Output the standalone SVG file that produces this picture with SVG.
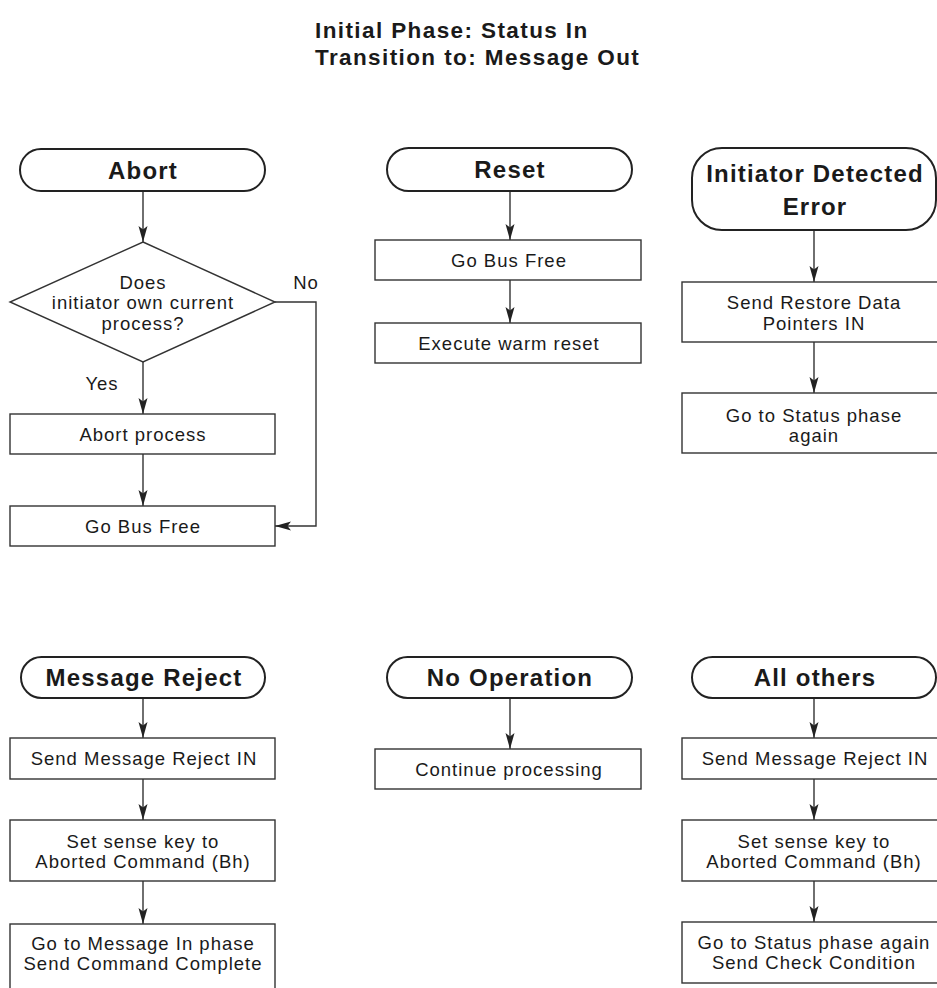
<svg xmlns="http://www.w3.org/2000/svg" width="937" height="988" viewBox="0 0 937 988">
<style>
  text { font-family: "Liberation Sans", Arial, Helvetica, sans-serif; fill: #1a1a1a; text-anchor: middle; }
  .title { font-size: 22.5px; font-weight: bold; text-anchor: start; letter-spacing: 1.4px; }
  .term { fill: #fff; stroke: #222; stroke-width: 2; }
  .tt { font-size: 24px; font-weight: bold; letter-spacing: 1.2px; }
  .box { fill: #fff; stroke: #333; stroke-width: 1.4; }
  .bt { font-size: 18.5px; letter-spacing: 1px; }
  .lbl { font-size: 18.5px; letter-spacing: 1px; }
  .conn { fill: none; stroke: #333; stroke-width: 1.4; }
</style>
<defs>
  <marker id="arr" viewBox="0 0 16 10" refX="16" refY="5" markerWidth="16" markerHeight="10" markerUnits="userSpaceOnUse" orient="auto">
    <path d="M0,0.5 L16,5 L0,9.5 L3.5,5 Z" fill="#222"/>
  </marker>
</defs>
<rect width="937" height="988" fill="#fff"/>
<g id="title">
  <text class="title" x="315" y="38">Initial Phase: Status In</text>
  <text class="title" x="315" y="65">Transition to: Message Out</text>
</g>

<g id="connectors">
  <line class="conn" x1="143" y1="191" x2="143" y2="242" marker-end="url(#arr)"/>
  <line class="conn" x1="143" y1="362" x2="143" y2="414" marker-end="url(#arr)"/>
  <line class="conn" x1="143" y1="454" x2="143" y2="506" marker-end="url(#arr)"/>
  <polyline class="conn" points="275,302 316,302 316,526 275,526" marker-end="url(#arr)"/>
  <line class="conn" x1="510" y1="191" x2="510" y2="240" marker-end="url(#arr)"/>
  <line class="conn" x1="510" y1="280" x2="510" y2="323" marker-end="url(#arr)"/>
  <line class="conn" x1="814" y1="230" x2="814" y2="282" marker-end="url(#arr)"/>
  <line class="conn" x1="814" y1="342" x2="814" y2="393" marker-end="url(#arr)"/>
  <line class="conn" x1="143" y1="698" x2="143" y2="738" marker-end="url(#arr)"/>
  <line class="conn" x1="143" y1="779" x2="143" y2="820" marker-end="url(#arr)"/>
  <line class="conn" x1="143" y1="881" x2="143" y2="924" marker-end="url(#arr)"/>
  <line class="conn" x1="510" y1="698" x2="510" y2="749" marker-end="url(#arr)"/>
  <line class="conn" x1="814" y1="698" x2="814" y2="738" marker-end="url(#arr)"/>
  <line class="conn" x1="814" y1="779" x2="814" y2="820" marker-end="url(#arr)"/>
  <line class="conn" x1="814" y1="881" x2="814" y2="922" marker-end="url(#arr)"/>
  <text class="lbl" x="306" y="289">No</text>
  <text class="lbl" x="102" y="390">Yes</text>
</g>

<g id="abort">
  <rect class="term" x="20" y="149" width="245" height="42" rx="21"/>
  <text class="tt" x="143" y="179">Abort</text>
</g>
<g id="decision">
  <polygon class="box" points="143,242 275,302 143,362 10,302"/>
  <text class="bt" x="143" y="289">Does</text>
  <text class="bt" x="143" y="309">initiator own current</text>
  <text class="bt" x="143" y="330">process?</text>
</g>
<g id="abort-process">
  <rect class="box" x="10" y="414" width="265" height="40"/>
  <text class="bt" x="143" y="441">Abort process</text>
</g>
<g id="abort-busfree">
  <rect class="box" x="10" y="506" width="265" height="40"/>
  <text class="bt" x="143" y="533">Go Bus Free</text>
</g>

<g id="reset">
  <rect class="term" x="387" y="148" width="245" height="43" rx="21.5"/>
  <text class="tt" x="510" y="178">Reset</text>
</g>
<g id="reset-busfree">
  <rect class="box" x="375" y="240" width="266" height="40"/>
  <text class="bt" x="509" y="267">Go Bus Free</text>
</g>
<g id="warm-reset">
  <rect class="box" x="375" y="323" width="266" height="40"/>
  <text class="bt" x="509" y="350">Execute warm reset</text>
</g>

<g id="ide">
  <rect class="term" x="692" y="148" width="244" height="82" rx="30"/>
  <text class="tt" x="815" y="182">Initiator Detected</text>
  <text class="tt" x="815" y="215">Error</text>
</g>
<g id="restore">
  <rect class="box" x="682" y="282" width="265" height="60"/>
  <text class="bt" x="814" y="309">Send Restore Data</text>
  <text class="bt" x="814" y="330">Pointers IN</text>
</g>
<g id="status-again">
  <rect class="box" x="682" y="393" width="265" height="60"/>
  <text class="bt" x="814" y="422">Go to Status phase</text>
  <text class="bt" x="814" y="442">again</text>
</g>

<g id="msg-reject">
  <rect class="term" x="21" y="657" width="244" height="41" rx="20.5"/>
  <text class="tt" x="144" y="686">Message Reject</text>
</g>
<g id="mr-send">
  <rect class="box" x="10" y="738" width="265" height="41"/>
  <text class="bt" x="144" y="765">Send Message Reject IN</text>
</g>
<g id="mr-sense">
  <rect class="box" x="10" y="820" width="265" height="61"/>
  <text class="bt" x="143" y="848">Set sense key to</text>
  <text class="bt" x="143" y="868">Aborted Command (Bh)</text>
</g>
<g id="mr-msgin">
  <rect class="box" x="10" y="924" width="265" height="70"/>
  <text class="bt" x="143" y="950">Go to Message In phase</text>
  <text class="bt" x="143" y="970">Send Command Complete</text>
</g>

<g id="noop">
  <rect class="term" x="387" y="657" width="245" height="41" rx="20.5"/>
  <text class="tt" x="510" y="686">No Operation</text>
</g>
<g id="continue">
  <rect class="box" x="375" y="749" width="266" height="40"/>
  <text class="bt" x="509" y="776">Continue processing</text>
</g>

<g id="all-others">
  <rect class="term" x="692" y="657" width="244" height="41" rx="20.5"/>
  <text class="tt" x="815" y="686">All others</text>
</g>
<g id="ao-send">
  <rect class="box" x="682" y="738" width="265" height="41"/>
  <text class="bt" x="815" y="765">Send Message Reject IN</text>
</g>
<g id="ao-sense">
  <rect class="box" x="682" y="820" width="265" height="61"/>
  <text class="bt" x="814" y="848">Set sense key to</text>
  <text class="bt" x="814" y="868">Aborted Command (Bh)</text>
</g>
<g id="ao-status">
  <rect class="box" x="682" y="922" width="265" height="61"/>
  <text class="bt" x="814" y="949">Go to Status phase again</text>
  <text class="bt" x="814" y="969">Send Check Condition</text>
</g>
</svg>
